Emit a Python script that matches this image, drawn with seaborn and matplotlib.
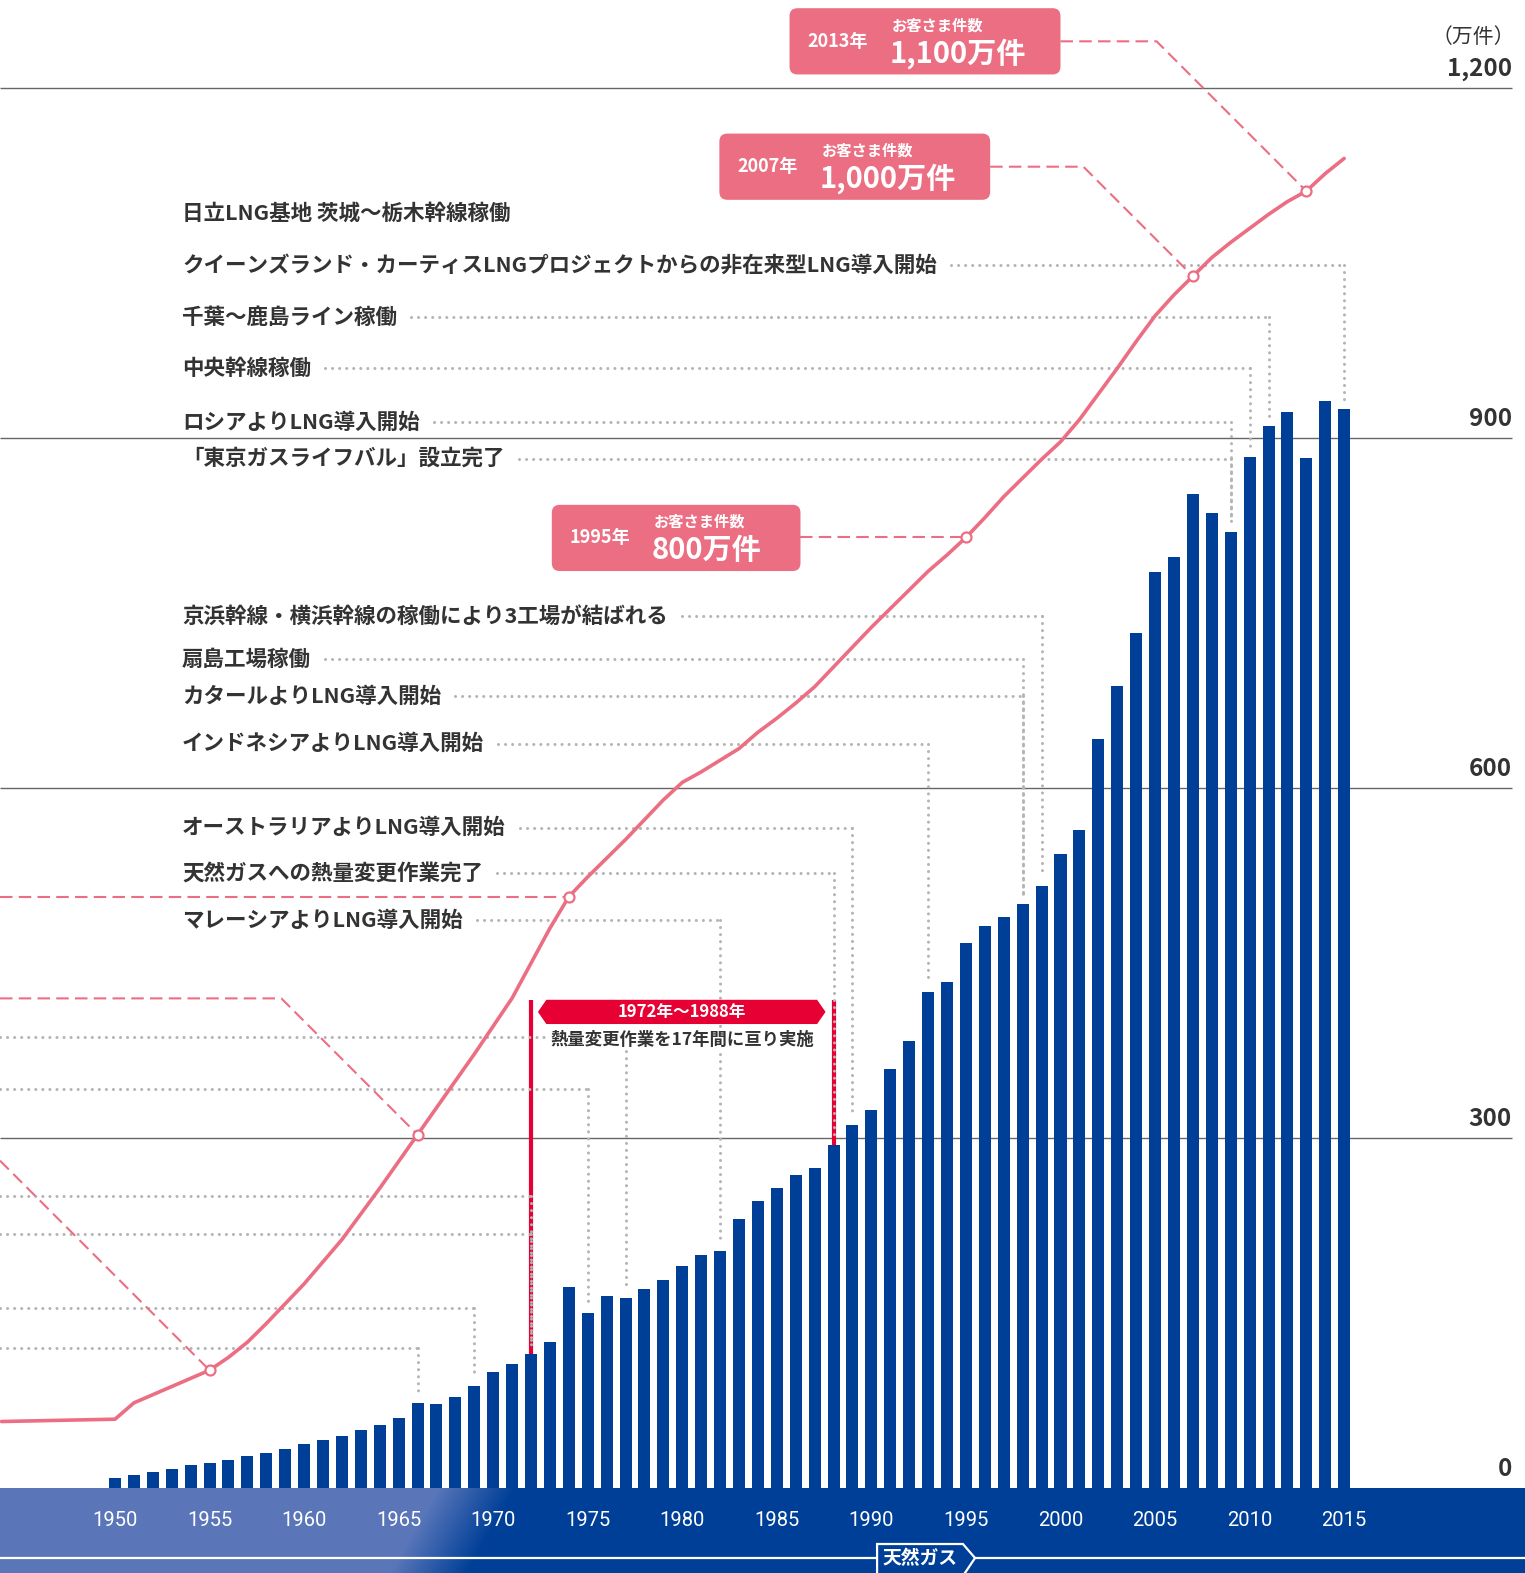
import numpy as np
import matplotlib
matplotlib.use("Agg")
import matplotlib.pyplot as plt
import seaborn as sns
from matplotlib.patches import FancyBboxPatch, Polygon

# ---- data ----
years = list(range(1950, 2016))
sales = [8.6, 11.1, 13.7, 16.3, 19.7, 21.4, 24.0, 27.4, 30.0, 33.4,
         37.7, 41.2, 44.6, 49.7, 54.0, 60.0, 72.9, 72.0, 78.0, 87.5,
         99.5, 106.3, 114.9, 125, 172, 150, 165, 163, 171, 178,
         190, 200, 203, 231, 246, 257, 268, 274, 294, 311,
         324, 359, 383, 425, 434, 467, 482, 490, 501, 516,
         544, 564, 642, 688, 733, 785, 798, 852, 836, 820,
         884, 911, 923, 883, 932, 925]

cust_years = [1944] + list(range(1950, 2016))
customers = [57,
             59, 73, 80, 87, 94, 101, 112, 125, 141, 158,
             175, 194, 213, 235, 257, 280, 303, 326, 349, 372,
             396, 420, 450, 480, 507, 524, 540, 556, 573, 590,
             605, 614, 624, 634, 648, 660, 673, 687, 704, 721,
             738, 754, 770, 786, 800, 815, 832, 850, 866, 882,
             897, 916, 938, 960, 983, 1005, 1023, 1039, 1055, 1068,
             1080, 1092, 1103, 1112, 1127, 1140]

milestone_years = [1955, 1966, 1974, 1995, 2007, 2013]

tick_years = list(range(1950, 2016, 5))
axis_values = [0, 300, 600, 900, 1200]
axis_labels = ["0", "300", "600", "900", "1,200"]

# event label, row level, year of the bar it points to
events = [
    ("日立LNG基地 茨城～栃木幹線稼働", 1093, None),
    ("クイーンズランド・カーティスLNGプロジェクトからの非在来型LNG導入開始", 1048.6, 2015),
    ("千葉～鹿島ライン稼働", 1004, 2011),
    ("中央幹線稼働", 960, 2010),
    ("ロシアよりLNG導入開始", 914, 2009),
    ("「東京ガスライフバル」設立完了", 882.6, 2009),
    ("京浜幹線・横浜幹線の稼働により3工場が結ばれる", 747.5, 1999),
    ("扇島工場稼働", 710.5, 1998),
    ("カタールよりLNG導入開始", 678.7, 1998),
    ("インドネシアよりLNG導入開始", 638.3, 1993),
    ("オーストラリアよりLNG導入開始", 566, 1989),
    ("天然ガスへの熱量変更作業完了", 527.3, 1988),
    ("マレーシアよりLNG導入開始", 486.9, 1982),
]
# rows whose labels are cut off at the left edge
cut_rows = [(387, 1977), (342, 1975), (250, 1972), (217.6, 1972), (154, 1969), (120.4, 1966)]

# callout boxes: left, right, top, bottom, year text, value text, milestone
callouts = [
    (1985.67, 2000.0, 1268.8, 1212.0, "2013年", "1,100万件", 2013),
    (1981.96, 1996.28, 1161.3, 1104.5, "2007年", "1,000万件", 2007),
    (1973.10, 1986.25, 843.0, 786.2, "1995年", "800万件", 1995),
]

BLUE = "#003f98"
PINK = "#ec6e83"
RED = "#e60033"
GREY_DOT = "#b4b4b4"
TEXT = "#333333"

sns.set_theme(style="white")
plt.rcParams["font.family"] = ["Noto Sans CJK JP", "DejaVu Sans"]

W, H = 1525, 1573
BAND = 85
PX_YEAR = 18.91
PX_VAL = 1.1663
fig = plt.figure(figsize=(W / 100, H / 100), dpi=100)
ax = fig.add_axes([0, BAND / H, 1, 1 - BAND / H])

x_lo = 1950 - 115 / PX_YEAR
x_hi = 1950 + (W - 115) / PX_YEAR
y_hi = (H - BAND) / PX_VAL
x_grid = 1950 + (1512 - 115) / PX_YEAR
k45 = PX_YEAR / PX_VAL  # value units per year for a 45 degree line

sales_of = dict(zip(years, sales))
cust_of = dict(zip(cust_years, customers))

# bars and line
sns.barplot(x=years, y=sales, native_scale=True, width=0.635, color=BLUE,
            saturation=1, errorbar=None, linewidth=0, ax=ax, zorder=3)
sns.lineplot(x=cust_years, y=customers, color=PINK, linewidth=2.6, ax=ax, zorder=6)

ax.set_xlim(x_lo, x_hi)
ax.set_ylim(0, y_hi)
ax.axis("off")

# gridlines and right-hand labels
ax.hlines(axis_values[1:], x_lo, x_grid, color="#666666", linewidth=1.0, zorder=1)
for v, lab in zip(axis_values, axis_labels):
    ax.annotate(lab, xy=(x_grid, v), xytext=(0, 19), textcoords="offset pixels",
                ha="right", va="center", fontsize=17.5, fontweight="bold", color=TEXT)
ax.annotate("（万件）", xy=(x_grid, 1200), xytext=(3, 51), textcoords="offset pixels",
            ha="right", va="center", fontsize=15, color=TEXT)

dot = dict(color=GREY_DOT, linewidth=2.2, linestyle=(0, (0.01, 2.3)),
           dash_capstyle="round", zorder=2.5)
dash = dict(color=PINK, linewidth=1.5, linestyle=(0, (6, 3)), zorder=5)

# event labels
x_label = 1950 + (182 - 115) / PX_YEAR
texts = []
for label, lvl, yr in events:
    t = ax.text(x_label, lvl, label, ha="left", va="center", fontsize=15.5,
                fontweight="bold", color=TEXT, zorder=7)
    texts.append(t)

fig.canvas.draw()
renderer = fig.canvas.get_renderer()
inv = ax.transData.inverted()
for t, (label, lvl, yr) in zip(texts, events):
    if yr is None:
        continue
    x1 = t.get_window_extent(renderer).x1
    xs = inv.transform((x1 + 14, 0))[0]
    ax.plot([xs, yr], [lvl, lvl], **dot)
    ax.plot([yr, yr], [lvl, sales_of[yr] + 8], **dot)

for lvl, yr in cut_rows:
    ax.plot([x_lo, yr], [lvl, lvl], **dot)
    ax.plot([yr, yr], [lvl, sales_of[yr] + 8], **dot)

# 1972-1988 conversion period
for yr in (1972, 1988):
    ax.plot([yr, yr], [418, sales_of[yr]], color=RED, linewidth=3, zorder=2, solid_capstyle="butt")
banner = Polygon([(1972.41, 408.2), (1972.83, 418), (1987.11, 418), (1987.53, 408.2),
                  (1987.11, 398.4), (1972.83, 398.4)], closed=True, color=RED, zorder=4)
ax.add_patch(banner)
ax.text(1979.97, 408.2, "1972年～1988年", ha="center", va="center", fontsize=12,
        fontweight="bold", color="white", zorder=5)
ax.text(1979.98, 384.5, "熱量変更作業を17年間に亘り実施", ha="center", va="center",
        fontsize=12.5, fontweight="bold", color=TEXT, zorder=4,
        bbox=dict(facecolor="white", edgecolor="none", pad=1))


def level(yr):
    return cust_of[yr]


# milestone leaders
y55 = level(1955)
ax.plot([x_lo, 1955], [y55 + (1955 - x_lo) * k45, y55], **dash)
y66 = level(1966)
lvl66 = 419.8
ax.plot([x_lo, 1966 - (lvl66 - y66) / k45, 1966], [lvl66, lvl66, y66], **dash)
ax.plot([x_lo, 1974], [level(1974), level(1974)], **dash)

for x0, x1, ytop, ybot, ytxt, vtxt, yr in callouts:
    box = FancyBboxPatch((x0, ybot), x1 - x0, ytop - ybot,
                         boxstyle="round,pad=0,rounding_size=0.42",
                         mutation_aspect=k45, facecolor=PINK, edgecolor="none", zorder=6)
    ax.add_patch(box)
    ymid = (ytop + ybot) / 2
    yc = level(yr)
    if abs(ymid - yc) < 5:
        ax.plot([x1, yr], [yc, yc], **dash)
    else:
        xc = yr - (ymid - yc) / k45
        ax.plot([x1, xc, yr], [ymid, ymid, yc], **dash)
    ax.annotate(ytxt, xy=(x0, ytop), xytext=(18, -33), textcoords="offset pixels",
                ha="left", va="center", fontsize=13, fontweight="bold", color="white", zorder=7)
    ax.annotate("お客さま件数", xy=(x0, ytop), xytext=(102, -17), textcoords="offset pixels",
                ha="left", va="center", fontsize=11, fontweight="bold", color="white", zorder=7)
    ax.annotate(vtxt, xy=(x0, ytop), xytext=(100, -45), textcoords="offset pixels",
                ha="left", va="center", fontsize=21, fontweight="bold", color="white", zorder=7)

ax.scatter(milestone_years, [level(y) for y in milestone_years], s=52,
           facecolor="white", edgecolor=PINK, linewidth=1.6, zorder=8)

# ---- bottom band ----
bax = fig.add_axes([0, 0, 1, BAND / H])
xx, yy = np.meshgrid(np.arange(W), np.arange(BAND))
x0 = 436 - yy * (48 / BAND)
t = np.clip((xx - x0) / 78, 0, 1)[..., None]
c_light = np.array([91, 119, 186]) / 255
c_dark = np.array([0, 64, 152]) / 255
img = c_light * (1 - t) + c_dark * t
bax.imshow(img, extent=(x_lo, x_hi, 0, BAND), origin="upper", aspect="auto", zorder=0)
bax.set_xlim(x_lo, x_hi)
bax.set_ylim(0, BAND)
bax.axis("off")
bax.axhline(15, color="white", linewidth=1.6, zorder=1)
for yr in tick_years:
    bax.text(yr, 53, str(yr), ha="center", va="center", fontsize=14.5,
             family="Roboto", color="white", zorder=2)
tag = Polygon([(1990.30, 29), (1994.84, 29), (1995.48, 15), (1994.84, -3), (1990.30, -3)],
              closed=True, facecolor=BLUE, edgecolor="white", linewidth=1.6, zorder=3)
bax.add_patch(tag)
bax.text(1992.55, 14.5, "天然ガス", ha="center", va="center", fontsize=13.5,
         fontweight="bold", color="white", zorder=4)

fig.savefig("out.png", dpi=100)
